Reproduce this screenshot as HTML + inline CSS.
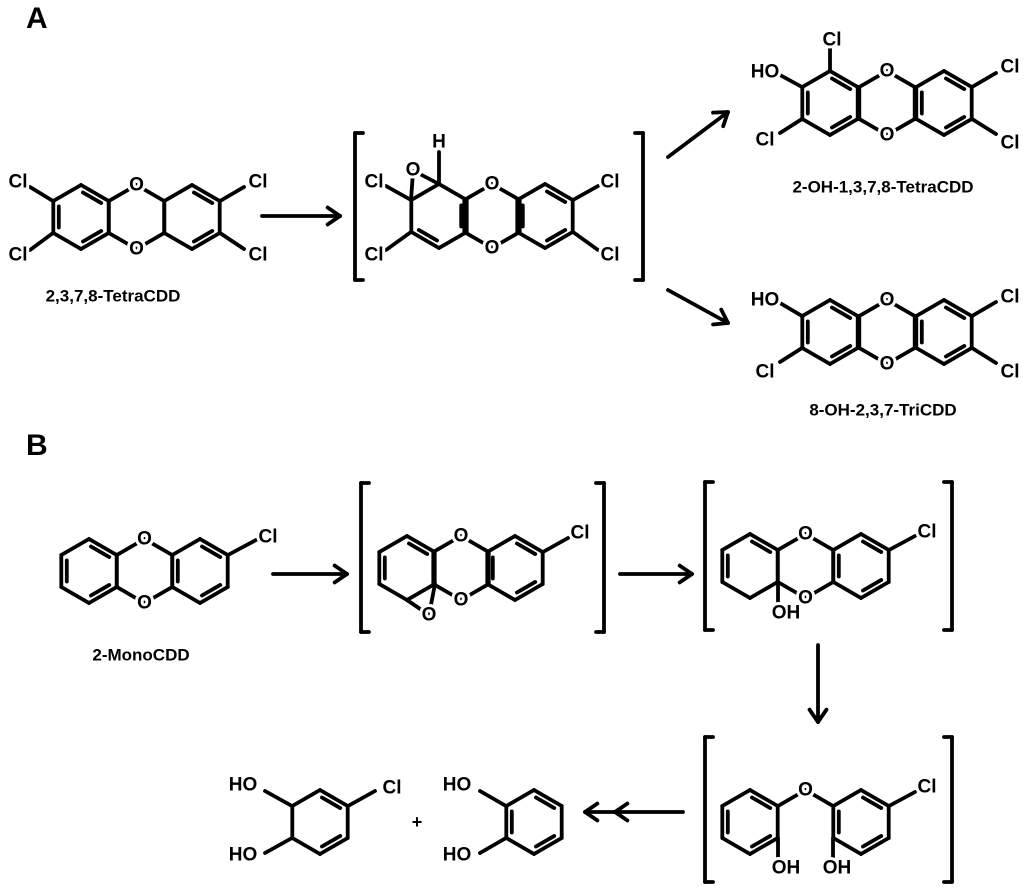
<!DOCTYPE html>
<html><head><meta charset="utf-8">
<style>
html,body{margin:0;padding:0;background:#fff;}
svg{display:block;}
text{font-family:"Liberation Sans",sans-serif;font-weight:bold;fill:#000;}
.a{font-size:19px;text-anchor:middle;dominant-baseline:central;stroke:#fff;stroke-width:6px;paint-order:stroke;stroke-linejoin:round;}
.n{font-size:17px;text-anchor:middle;dominant-baseline:central;}
.L{font-size:30px;}
</style></head>
<body>
<svg id="s" width="1024" height="888" viewBox="0 0 1024 888" xmlns="http://www.w3.org/2000/svg">
<g id="b" stroke="#000" stroke-width="3.8" stroke-linecap="round" fill="none"></g>
<g id="t">
<text class="L" x="26" y="28">A</text>
<text class="L" x="26" y="455">B</text>
<text class="a" x="18" y="182">Cl</text><text class="a" x="18" y="255">Cl</text>
<text class="a" x="258" y="182">Cl</text><text class="a" x="258" y="255">Cl</text>
<text class="a" x="136.5" y="185">O</text><text class="a" x="136.5" y="249">O</text>
<text class="n" x="113" y="296">2,3,7,8-TetraCDD</text>
<text class="a" x="374" y="182">Cl</text><text class="a" x="374" y="255">Cl</text>
<text class="a" x="610" y="182">Cl</text><text class="a" x="610" y="255">Cl</text>
<text class="a" x="492" y="184">O</text><text class="a" x="492" y="248">O</text>
<text class="a" x="413" y="170">O</text><text class="a" x="439" y="142">H</text>
<text class="a" x="832" y="40">Cl</text><text class="a" x="765" y="72">HO</text>
<text class="a" x="765" y="140">Cl</text>
<text class="a" x="1010" y="67">Cl</text><text class="a" x="1010" y="143">Cl</text>
<text class="a" x="887" y="71">O</text><text class="a" x="887" y="135">O</text>
<text class="n" x="883" y="187">2-OH-1,3,7,8-TetraCDD</text>
<text class="a" x="765" y="300">HO</text><text class="a" x="765" y="372">Cl</text>
<text class="a" x="1010" y="297">Cl</text><text class="a" x="1010" y="372">Cl</text>
<text class="a" x="887" y="300">O</text><text class="a" x="887" y="364">O</text>
<text class="n" x="883" y="410">8-OH-2,3,7-TriCDD</text>
<text class="a" x="144.5" y="539">O</text><text class="a" x="144.5" y="603">O</text>
<text class="a" x="268" y="537">Cl</text>
<text class="n" x="141" y="655">2-MonoCDD</text>
<text class="a" x="461" y="536">O</text><text class="a" x="461" y="600">O</text>
<text class="a" x="580" y="533">Cl</text><text class="a" x="429" y="615">O</text>
<text class="a" x="805.5" y="534">O</text><text class="a" x="805.5" y="598">O</text>
<text class="a" x="927" y="532">Cl</text><text class="a" x="786" y="613">OH</text>
<text class="a" x="805.5" y="790">O</text>
<text class="a" x="927" y="787">Cl</text>
<text class="a" x="786" y="868">OH</text><text class="a" x="837" y="868">OH</text>
<text class="a" x="243" y="785">HO</text><text class="a" x="243" y="855">HO</text>
<text class="a" x="392" y="788">Cl</text>
<text class="n" x="417" y="822" style="font-size:18px">+</text>
<text class="a" x="457" y="785">HO</text><text class="a" x="457" y="855">HO</text>
</g>
</svg>
<script>
var g=document.getElementById('b'),NS="http://www.w3.org/2000/svg",R=32,W=27.7;
function L(x1,y1,x2,y2,w){var l=document.createElementNS(NS,'line');l.setAttribute('x1',x1);l.setAttribute('y1',y1);l.setAttribute('x2',x2);l.setAttribute('y2',y2);if(w)l.setAttribute('stroke-width',w);g.appendChild(l);}
function hex(cx,cy,d,skip){d=d||[];skip=skip||[];
var v=[[cx,cy-R],[cx+W,cy-R/2],[cx+W,cy+R/2],[cx,cy+R],[cx-W,cy+R/2],[cx-W,cy-R/2]];
for(var i=0;i<6;i++){var a=v[i],b=v[(i+1)%6];if(skip.indexOf(i)<0)L(a[0],a[1],b[0],b[1]);
if(d.indexOf(i)>=0){var mx=(a[0]+b[0])/2,my=(a[1]+b[1])/2,dx=cx-mx,dy=cy-my,dl=Math.hypot(dx,dy),o=5.5;
var ox=dx/dl*o,oy=dy/dl*o,f=0.17;
var ax=a[0]+(b[0]-a[0])*f+ox,ay=a[1]+(b[1]-a[1])*f+oy,bx=b[0]+(a[0]-b[0])*f+ox,by=b[1]+(a[1]-b[1])*f+oy;L(ax,ay,bx,by);}}
return v;}
function arrow(x1,y1,x2,y2,h2){L(x1,y1,x2,y2);var an=Math.atan2(y2-y1,x2-x1),s=15,t=0.6;
function head(px,py){L(px,py,px-s*Math.cos(an-t),py-s*Math.sin(an-t));L(px,py,px-s*Math.cos(an+t),py-s*Math.sin(an+t));}
head(x2,y2);if(h2)head(x2-30*Math.cos(an),y2-30*Math.sin(an));}
function br(x1,x2,y1,y2){var t=8;L(x1+t,y1,x1,y1);L(x1,y1,x1,y2);L(x1,y2,x1+t,y2);L(x2-t,y1,x2,y1);L(x2,y1,x2,y2);L(x2,y2,x2-t,y2);}
hex(81,217,[0,2,4]);hex(136.5,217,[]);hex(192,217,[0,2]);
L(53,201,30,187);L(53,233,30,250);L(220,201,244,187);L(220,233,244,249);
arrow(262,216,340,216);
br(355,643,133,280);
hex(439,216,[1,3]);hex(492,216,[]);hex(545,216,[0,2,4]);
L(411,200,386,186);L(411,232,386,250);L(573,200,598,186);L(573,232,598,250);
L(439,184,439,152);L(439,184,414,171);L(411,200,413,172);
arrow(668,157,728,112);arrow(668,290,728,323);
hex(830,103,[0,2,4]);hex(887,103,[]);hex(944,103,[0,2,4]);
L(830,71,830,48);L(802,87,780,75);L(802,119,780,133);L(972,87,996,73);L(972,119,996,134);
hex(830,332,[0,2,4]);hex(887,332,[]);hex(944,332,[0,2,4]);
L(802,316,780,303);L(802,348,780,362);L(972,316,996,302);L(972,348,996,363);
hex(89,571,[0,2,4]);hex(144.5,571,[]);hex(200,571,[0,2,4]);
L(228,555,256,540);
arrow(273,574,347,574);
br(361,604,483,632);
hex(407,568,[0,4]);hex(461,568,[]);hex(515,568,[0,2,4]);
L(543,552,568,538);L(407,600,429,615);L(435,584,429,615);
arrow(620,574,692,574);
br(705,952,482,630);
hex(750,566,[0,4]);hex(805.5,566,[]);hex(861,566,[0,2,4]);
L(889,550,915,536);L(778,582,778,603);
arrow(818,645,818,722);
br(705,952,737,882);
hex(750,822,[0,2,4]);hex(861,822,[0,2,4]);
L(778,806,805.5,790);L(805.5,790,833,806);L(889,806,915,792);L(778,838,778,858);L(833,838,833,858);
hex(320,822,[0,2]);L(292,806,265,791);L(292,838,265,853);L(348,806,375,791);
hex(534,822,[0,2,4]);L(506,806,480,791);L(506,838,480,853);
arrow(683,812,585,812,true);
</script>
</body></html>
